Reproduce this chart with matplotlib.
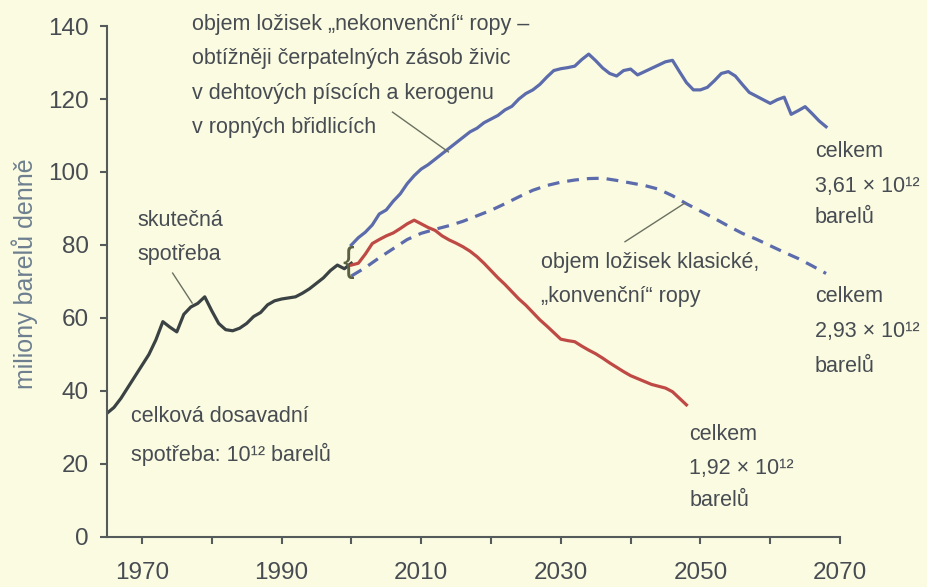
import matplotlib
matplotlib.use("Agg")
import matplotlib.pyplot as plt

# skutečná spotřeba 1965-2000
years_hist = list(range(1965, 2001))
actual = [33.9, 35.5, 38, 41, 44, 47, 50, 54, 59, 57.5,
          56.2, 61, 63, 64, 65.8, 62, 58.5, 56.8, 56.5, 57.2,
          58.5, 60.4, 61.5, 63.6, 64.7, 65.2, 65.5, 65.8, 66.8, 68,
          69.5, 71, 73, 74.5, 73.5, 75]

# nekonvenční ropa (celkem) 2000-2068
years_total = list(range(2000, 2069))
total = [80, 82, 83.5, 85.5, 88.5, 89.6, 92, 94, 96.8, 99,
         100.8, 102, 103.5, 105, 106.5, 108, 109.5, 111, 112, 113.5,
         114.5, 115.5, 117, 118, 120, 121.5, 122.5, 124, 126, 127.8,
         128.3, 128.6, 129, 130.8, 132.3, 130.5, 128.5, 127, 126.3, 127.8,
         128.2, 126.6, 127.5, 128.4, 129.3, 130.2, 130.6, 127.5, 124.5, 122.5,
         122.5, 123.2, 125, 127, 127.5, 126.3, 124, 121.8, 120.8, 119.8,
         118.8, 119.8, 120.5, 115.8, 116.8, 117.9, 116, 114, 112.4]

# klasická ropa (čárkovaně)
years_conv = list(range(2000, 2069, 2))
conventional = [71.5, 73.8, 76.5, 79, 81.5, 83.2, 84.3, 85.3, 86.5, 88,
                89.5, 91.3, 93.2, 95, 96.3, 97.2, 97.8, 98.2, 98.3, 97.7,
                97, 96.3, 95.3, 93.5, 91.3, 89.3, 87.3, 85.2, 83.2, 81.6,
                79.8, 78, 76.3, 74.3, 72.2]

# červená křivka 2000-2048
years_red = list(range(2000, 2049))
red = [74.5, 75, 77.5, 80.4, 81.5, 82.5, 83.3, 84.5, 85.8, 86.8,
       85.8, 84.8, 84, 82.5, 81.4, 80.5, 79.5, 78.3, 76.8, 75,
       73, 71, 69.2, 67.2, 65.2, 63.5, 61.5, 59.5, 57.8, 56,
       54.2, 53.8, 53.5, 52.3, 51.2, 50.2, 49, 47.7, 46.5, 45.3,
       44.2, 43.4, 42.6, 41.8, 41.3, 40.8, 39.8, 38, 36.2]

plt.rcParams['font.family'] = ['Liberation Sans', 'DejaVu Sans']

bg = "#fbfbe2"
txt = "#474c52"
fs = 15.5

fig = plt.figure(figsize=(9.28, 5.87), dpi=100, facecolor=bg)
ax = fig.add_axes([0.1153, 0.0852, 0.7899, 0.8705])
ax.set_facecolor(bg)

ax.plot(years_hist, actual, color="#3b4244", lw=2.3)
ax.plot(years_total, total, color="#5b6bab", lw=2.3)
ax.plot(years_conv, conventional, color="#5b6bab", lw=2.3, dashes=(3.7, 2.5))
ax.plot(years_red, red, color="#bf4a45", lw=2.3)

ax.set_xlim(1965, 2070)
ax.set_ylim(0, 140)
ax.set_xticks(range(1970, 2071, 10))
ax.set_xticklabels([str(y) if y % 20 == 10 else "" for y in range(1970, 2071, 10)])
ax.set_yticks(range(0, 141, 20))
for s in ["top", "right"]:
    ax.spines[s].set_visible(False)
for s in ["left", "bottom"]:
    ax.spines[s].set_color("#555a5a")
    ax.spines[s].set_linewidth(1.5)
ax.tick_params(axis="both", colors="#555a5a", width=1.5, length=5, labelcolor=txt, labelsize=17.5)
ax.tick_params(axis="x", pad=13)
ax.tick_params(axis="y", pad=8)

fig.text(25 / 928, 1 - 274 / 587, "miliony barelů denně", rotation=90, ha="center", va="center",
         color="#6d7f8f", fontsize=18)

def block(x, ys, lines):
    for y, s in zip(ys, lines):
        ax.text(x, y, s, ha="left", va="center", color=txt, fontsize=fs, clip_on=False)

block(1977.2, [140.5, 131.2, 121.6, 112.3],
      ["objem ložisek „nekonvenční“ ropy –", "obtížněji čerpatelných zásob živic",
       "v dehtových píscích a kerogenu", "v ropných břidlicích"])
block(1969.3, [86.8, 77.5], ["skutečná", "spotřeba"])
block(1968.5, [32.9, 22.5], ["celková dosavadní", "spotřeba: 10¹² barelů"])
block(2027.1, [75.3, 65.8], ["objem ložisek klasické,", "„konvenční“ ropy"])
block(2066.4, [105.5, 95.9, 87.4], ["celkem", "3,61 × 10¹²", "barelů"])
block(2066.4, [66.0, 56.4, 46.8], ["celkem", "2,93 × 10¹²", "barelů"])
block(2048.4, [28.2, 18.9, 9.9], ["celkem", "1,92 × 10¹²", "barelů"])

# odkazové čáry
lc = "#6b7060"
ax.plot([2005.9, 2013.9], [116.4, 105.5], color=lc, lw=1)
ax.plot([1974.4, 1977.2], [72.3, 64.1], color=lc, lw=1)
ax.plot([2039.2, 2047.7], [80.9, 91.4], color=lc, lw=1)

ax.text(1999.6, 75.3, "{", ha="center", va="center", fontsize=25, color="#5a6040")

fig.savefig("out.png", dpi=100, facecolor=bg)
